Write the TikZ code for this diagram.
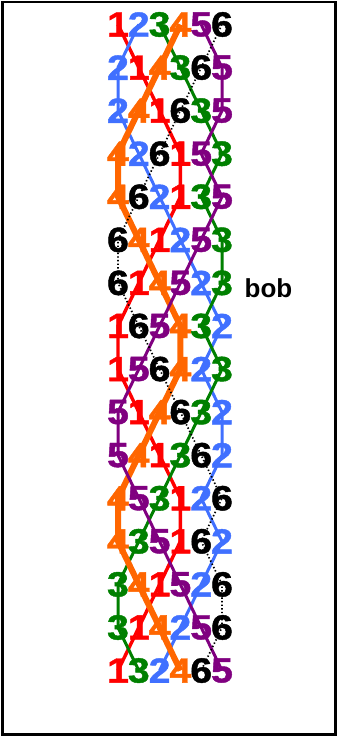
\documentclass[tikz,border=0pt]{standalone}
\usepackage{fontspec}
\setmainfont{Liberation Sans}
\newfontfamily\digitfont[FakeBold=1.2]{Liberation Sans Bold}
\definecolor{bc1}{RGB}{255,0,0}
\definecolor{bc2}{RGB}{64,112,255}
\definecolor{bc3}{RGB}{0,128,0}
\definecolor{bc4}{RGB}{255,102,0}
\definecolor{bc5}{RGB}{128,0,128}
\definecolor{bc6}{RGB}{0,0,0}
\tikzset{
  digit/.style={inner sep=0pt, font=\fontsize{35}{35}\digitfont},
  line1/.style={bc1, line width=3.4pt},
  line2/.style={bc2, line width=3pt},
  line3/.style={bc3, line width=3pt},
  line4/.style={bc4, line width=6pt},
  line5/.style={bc5, line width=3pt},
  line6/.style={bc6, line width=1.7pt, dash pattern=on 1.4pt off 2.2pt},
  lbl/.style={inner sep=0pt, font=\fontsize{26}{26}\selectfont\bfseries, anchor=base},
  frame/.style={draw=black, line width=2.2pt}
}
\begin{document}
\begin{tikzpicture}[x=1pt,y=1pt]
\useasboundingbox (0,0) rectangle (339,-737);
\draw[frame] (2.5,-2.2) rectangle (335.5,-734.5);
\foreach \r/\a/\b/\c/\d/\e/\f in {
 1/1/2/3/4/5/6, 2/2/1/4/3/6/5, 3/2/4/1/6/3/5, 4/4/2/6/1/5/3,
 5/4/6/2/1/3/5, 6/6/4/1/2/5/3, 7/6/1/4/5/2/3, 8/1/6/5/4/3/2,
 9/1/5/6/4/2/3, 10/5/1/4/6/3/2, 11/5/4/1/3/6/2, 12/4/5/3/1/2/6,
 13/4/3/5/1/6/2, 14/3/4/1/5/2/6, 15/3/1/4/2/5/6, 16/1/3/2/4/6/5}{
  \foreach \bell [count=\p] in {\a,\b,\c,\d,\e,\f}{
    \node[digit, text=bc\bell] (n\r-\bell) at ({118+20.8*(\p-1)}, {-24.5-43.07*(\r-1)}) {\scalebox{1.12}[1]{\bell}};
  }
}
\foreach \bell in {1,...,6}{
  \draw[line\bell, line join=round] (n1-\bell.center) \foreach \r in {2,...,16}{ -- (n\r-\bell.center)};
}
\node[lbl] (bob) at (268.5,-297.5) {bob};
\end{tikzpicture}
\end{document}
